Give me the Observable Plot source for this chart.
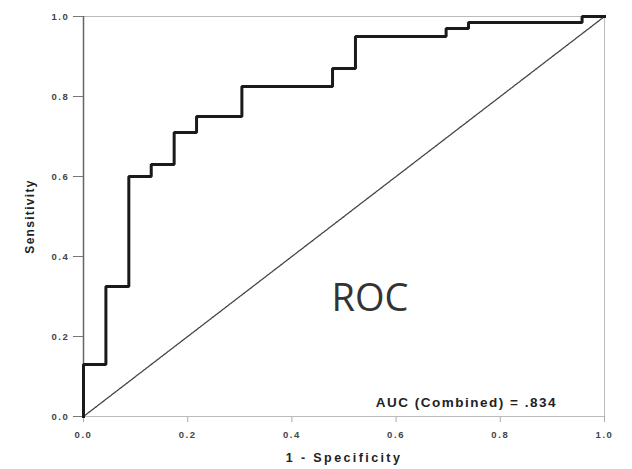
<!DOCTYPE html>
<html>
<head>
<meta charset="utf-8">
<script src="https://cdn.jsdelivr.net/npm/d3@7"></script>
<script src="https://cdn.jsdelivr.net/npm/@observablehq/plot@0.6"></script>
<style>
  html, body { margin: 0; padding: 0; background: #fff; }
  #chart svg { display: block; }
  g[aria-label="x-axis tick label"] text, g[aria-label="y-axis tick label"] text { letter-spacing: 1.6px; }
</style>
</head>
<body>
<div id="chart"></div>
<script>
// ROC curve coordinates (1 - specificity, sensitivity), drawn as a step curve
const fpr = [0.0, 0.043, 0.087, 0.130, 0.174, 0.217, 0.304, 0.478, 0.522, 0.696, 0.739, 0.957, 1.0];
const tpr = [0.0, 0.130, 0.325, 0.600, 0.630, 0.710, 0.750, 0.825, 0.870, 0.950, 0.970, 0.985, 1.0];
// reference diagonal
const refLine = [0, 1];
// ticks
const xTicks = [0, 0.2, 0.4, 0.6, 0.8, 1.0];
const xTickLabels = ["0.0", "0.2", "0.4", "0.6", "0.8", "1.0"];
const yTicks = [0, 0.2, 0.4, 0.6, 0.8, 1.0];
const yTickLabels = ["0.0", "0.2", "0.4", "0.6", "0.8", "1.0"];
// texts
const xTitle = "1 - Specificity";
const yTitle = "Sensitivity";
const rocLabel = "ROC";
const aucLabel = "AUC (Combined) = .834";
const rocPos = [0.55, 0.295];
const aucPos = [0.735, 0.035];

const curve = fpr.map((x, i) => ({x, y: tpr[i]}));
const diag = refLine.map(v => ({x: v, y: v}));

const chart = Plot.plot({
  width: 632,
  height: 469,
  marginLeft: 83,
  marginRight: 28,
  marginTop: 16,
  marginBottom: 53,
  x: {domain: [0, 1]},
  y: {domain: [0, 1]},
  style: {fontFamily: "Liberation Sans, Arial, sans-serif", background: "#fff"},
  marks: [
    Plot.frame({anchor: "top", stroke: "#bbb", strokeWidth: 1}),
    Plot.frame({anchor: "right", stroke: "#bbb", strokeWidth: 1}),
    Plot.axisX({
      ticks: xTicks,
      tickFormat: (d) => xTickLabels[xTicks.indexOf(d)],
      tickSize: 6,
      tickPadding: 9,
      stroke: "#aaa",
      fill: "#444",
      fontSize: 9.5,
      fontWeight: "bold",
      label: null
    }),
    Plot.axisY({
      ticks: yTicks,
      tickFormat: (d) => yTickLabels[yTicks.indexOf(d)],
      tickSize: 10,
      tickPadding: 4,
      stroke: "#777",
      fill: "#444",
      fontSize: 9.5,
      fontWeight: "bold",
      label: null
    }),
    Plot.ruleY([0], {stroke: "#bbb", strokeWidth: 1.2}),
    Plot.ruleX([0], {stroke: "#666", strokeWidth: 1.5}),
    Plot.line(diag, {x: "x", y: "y", stroke: "#444", strokeWidth: 1.3, strokeDasharray: "2,1"}),
    Plot.line(curve, {x: "x", y: "y", curve: "step-before", stroke: "#1a1a1a", strokeWidth: 3, strokeLinejoin: "miter", strokeLinecap: "square"}),
    Plot.text([rocLabel], {x: () => rocPos[0], y: () => rocPos[1], text: d => d, fontSize: 38, fontFamily: "Open Sans", fill: "#333"}),
    Plot.text([aucLabel], {x: () => aucPos[0], y: () => aucPos[1], text: d => d, fontSize: 13.5, fontWeight: "bold", fill: "#222"}),
    Plot.text([xTitle], {frameAnchor: "bottom", dy: 45, text: d => d, fontSize: 12.5, fontWeight: "bold", fill: "#222"}),
    Plot.text([yTitle], {frameAnchor: "left", dx: -53, rotate: -90, textAnchor: "middle", text: d => d, fontSize: 12, fontWeight: "bold", fill: "#222"})
  ]
});
document.getElementById("chart").appendChild(chart);

// widen the scanned-looking labels with letter spacing
d3.select(chart).selectAll("text").each(function () {
  const t = this.textContent;
  if (t === aucLabel) this.style.letterSpacing = "1.5px";
  if (t === xTitle) this.style.letterSpacing = "2.4px";
  if (t === yTitle) this.style.letterSpacing = "1.3px";
});
</script>
</body>
</html>
